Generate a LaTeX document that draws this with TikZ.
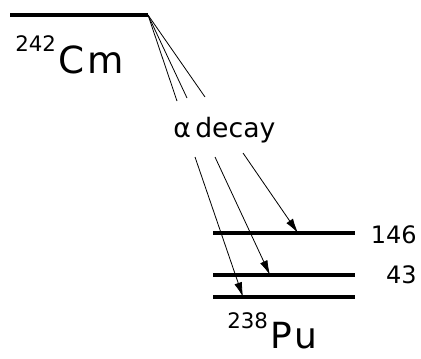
\documentclass[tikz,border=0pt]{standalone}
\usepackage{fontspec}
\setmainfont{DejaVu Sans}
\usepackage{tikz}
\usetikzlibrary{arrows.meta}

\begin{document}
\begin{tikzpicture}[x=0.75pt,y=-0.75pt,
    level/.style={line width=2.4pt},
    fan/.style={line width=0.6pt},
    decay/.style={line width=0.6pt,-{Latex[length=11pt,width=6pt]}},
    lbl/.style={inner sep=0pt}]
          \useasboundingbox (0,0) rectangle (421,358);
          % parent level
          \coordinate (cmL) at (10,15);
          \coordinate (cmR) at (148,15);
          \draw[level] (cmL) -- (cmR);
          \node[lbl,anchor=base west] (cm) at (15,73)
            {\raisebox{16pt}{\fontsize{16}{16}\selectfont 242}\,\fontsize{28}{28}\selectfont\addfontfeature{LetterSpace=8}Cm};
          % fan
          \coordinate (f1) at (177,101);
          \coordinate (f2) at (187,98);
          \coordinate (f3) at (205,97);
          \draw[fan] (cmR) -- (f1);
          \draw[fan] (cmR) -- (f2);
          \draw[fan] (cmR) -- (f3);
          \node[lbl,anchor=base west] (alpha) at (173,137) {\fontsize{20}{20}\selectfont α\,decay};
          % daughter levels
          \coordinate (l2a) at (213,233); \coordinate (l2b) at (355,233);
          \coordinate (l1a) at (213,275); \coordinate (l1b) at (355,275);
          \coordinate (l0a) at (213,297); \coordinate (l0b) at (355,297);
          \draw[level] (l2a) -- (l2b);
          \draw[level] (l1a) -- (l1b);
          \draw[level] (l0a) -- (l0b);
          \node[lbl,anchor=base east] (e2) at (417,243) {\fontsize{18}{18}\selectfont 146};
          \node[lbl,anchor=base east] (e1) at (417,283) {\fontsize{18}{18}\selectfont 43};
          \node[lbl,anchor=base west] (pu) at (227,348)
            {\raisebox{15pt}{\fontsize{16}{16}\selectfont 238}\,\fontsize{27}{27}\selectfont\addfontfeature{LetterSpace=8}Pu};
          % alpha branches
          \coordinate (s0) at (195,157);
          \coordinate (s1) at (215,157);
          \coordinate (s2) at (243,153);
          \coordinate (t0) at (243,297);
          \coordinate (t1) at (270,275);
          \coordinate (t2) at (298,233);
          \draw[decay] (s0) -- (t0);
          \draw[decay] (s1) -- (t1);
          \draw[decay] (s2) -- (t2);
        \end{tikzpicture}
\end{document}
